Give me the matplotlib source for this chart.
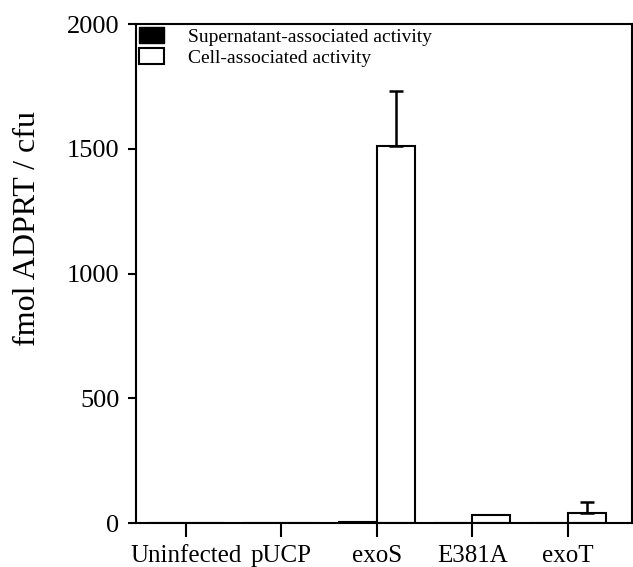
import matplotlib
matplotlib.use("Agg")
import matplotlib.pyplot as plt
import numpy as np
from matplotlib.patches import Patch

categories = ["Uninfected", "pUCP", "exoS", "E381A", "exoT"]
supernatant = [0, 0, 5, 0, 0]
cell = [0, 0, 1511, 32, 39]
cell_err = [0, 0, 220, 0, 45]
yticks = [0, 500, 1000, 1500, 2000]

plt.rcParams['font.family'] = ['Liberation Serif']
fig = plt.figure(figsize=(6.33, 5.67), dpi=100)
ax = fig.add_axes([0.215, 0.0776, 0.783, 0.880])

x = np.arange(len(categories))
w = 0.4
ax.bar(x - w / 2, supernatant, w, color='black', edgecolor='black', linewidth=1.5)
ax.bar(x + w / 2, cell, w, color='white', edgecolor='black', linewidth=1.5)
for xi, v, e in zip(x, cell, cell_err):
    if e > 0:
        ax.errorbar(xi + w / 2, v, yerr=[[0], [e]], fmt='none', ecolor='black',
                    elinewidth=1.8, capsize=5, capthick=1.8)

ax.set_xlim(-0.52, 4.67)
ax.set_ylim(0, 2000)
ax.set_yticks(yticks)
ax.set_xticks(x)
ax.set_xticklabels(categories, fontsize=18)
ax.tick_params(axis='y', labelsize=19, length=6, width=1.5, pad=6)
ax.tick_params(axis='x', length=10, width=1.5, pad=6)
for s in ax.spines.values():
    s.set_linewidth(1.5)
ax.set_ylabel("fmol ADPRT / cfu", fontsize=23)
ax.yaxis.set_label_coords(-0.19, 0.59)

handles = [Patch(facecolor='black', edgecolor='black'),
           Patch(facecolor='white', edgecolor='black', linewidth=1.5)]
ax.legend(handles, ["Supernatant-associated activity", "Cell-associated activity"],
          loc='upper left', frameon=False, fontsize=14, handlelength=1.3,
          handleheight=0.93, borderaxespad=0.05, borderpad=0.1, labelspacing=0.1,
          handletextpad=1.2)

fig.savefig("out.png", dpi=100)
